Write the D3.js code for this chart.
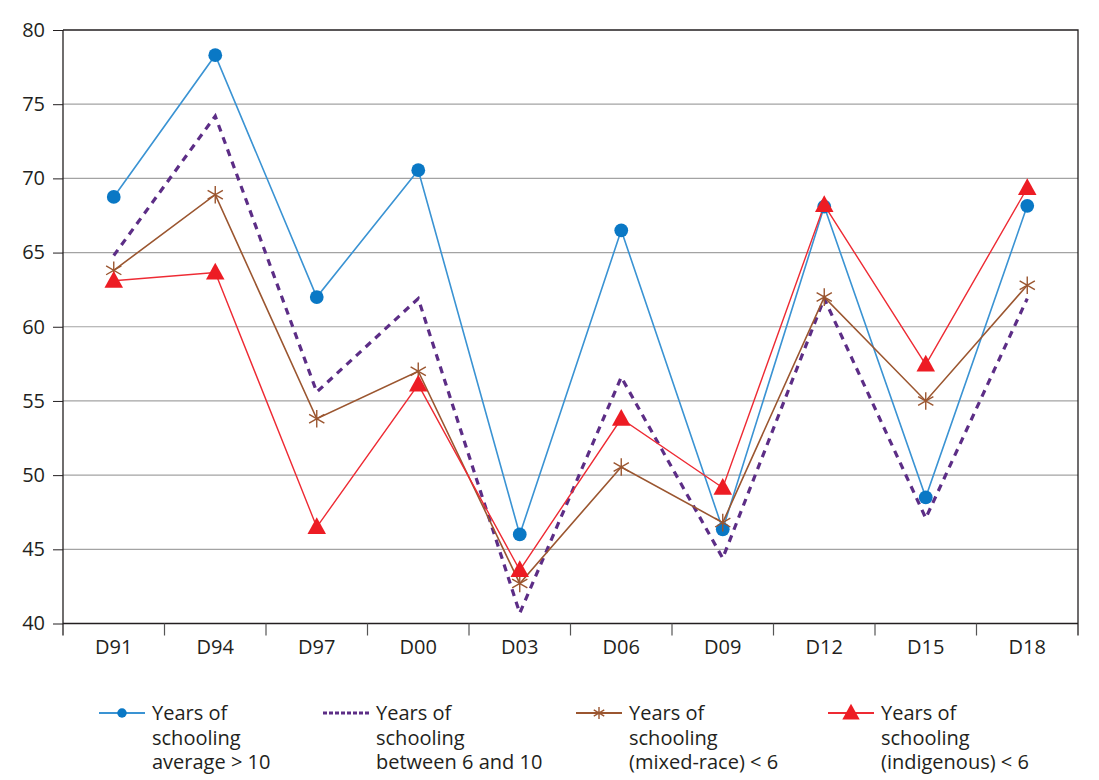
<!DOCTYPE html>
<html>
<head>
<meta charset="utf-8">
<script src="https://cdn.jsdelivr.net/npm/d3@7"></script>
<style>
  body { margin: 0; background: #fff; }
  text { font-family: "Open Sans", "Noto Sans", sans-serif; fill: #231f20; }
</style>
</head>
<body>
<div id="chart"></div>
<script>
// categories and values
var rounds = ["D91", "D94", "D97", "D00", "D03", "D06", "D09", "D12", "D15", "D18"];
var yTicks = [40, 45, 50, 55, 60, 65, 70, 75, 80];

var avgOver10 = [68.75, 78.3, 62.0, 70.55, 46.0, 66.5, 46.35, 68.1, 48.5, 68.15];
var between6and10 = [64.8, 74.2, 55.6, 61.9, 40.7, 56.6, 44.4, 61.9, 47.1, 61.9];
var mixedRace = [63.8, 68.9, 53.8, 57.0, 42.7, 50.55, 46.8, 62.0, 55.0, 62.8];
var indigenous = [63.1, 63.65, 46.5, 56.1, 43.6, 53.8, 49.15, 68.2, 57.45, 69.35];

var legendLabels = [
  ["Years of", "schooling", "average > 10"],
  ["Years of", "schooling", "between 6 and 10"],
  ["Years of", "schooling", "(mixed-race) < 6"],
  ["Years of", "schooling", "(indigenous) < 6"]
];

var w = 1099, h = 780;
var plotLeft = 63, plotRight = 1078, plotTop = 30, plotBottom = 623.5;

var series = [
  { values: avgOver10, line: "#3a93d3", fill: "#0a78c5", width: 1.6, marker: "circle" },
  { values: between6and10, line: "#5c2d86", width: 3.2, dash: "7,6", marker: "none" },
  { values: mixedRace, line: "#9b5630", width: 1.6, marker: "star" },
  { values: indigenous, line: "#ee2a33", fill: "#ed1c24", width: 1.4, marker: "triangle" }
];

var svg = d3.select("#chart").append("svg")
  .attr("width", w)
  .attr("height", h);

var xScale = d3.scaleBand()
  .domain(rounds)
  .range([plotLeft, plotRight]);

var yScale = d3.scaleLinear()
  .domain([40, 80])
  .range([plotBottom, plotTop]);

// gridlines
svg.append("g")
  .selectAll("line")
  .data(yTicks.filter(function(d) { return d > 40 && d < 80; }))
  .enter()
  .append("line")
  .attr("x1", plotLeft)
  .attr("x2", plotRight)
  .attr("y1", function(d) { return yScale(d); })
  .attr("y2", function(d) { return yScale(d); })
  .attr("stroke", "#a3a3a3")
  .attr("stroke-width", 1.2);

// top and right border
svg.append("path")
  .attr("d", "M" + plotLeft + "," + yScale(80) + "H" + plotRight + "V" + (plotBottom + 12))
  .attr("fill", "none")
  .attr("stroke", "#231f20")
  .attr("stroke-width", 1.3);

// Y axis
var yAxis = d3.axisLeft(yScale)
  .tickValues(yTicks)
  .tickSize(10)
  .tickPadding(8);

var gy = svg.append("g")
  .attr("transform", "translate(" + plotLeft + ",0)")
  .call(yAxis);
gy.select(".domain").attr("stroke", "#231f20").attr("stroke-width", 1.3)
  .attr("d", "M0," + (plotBottom + 12) + "V" + yScale(80));
gy.selectAll(".tick line").attr("stroke", "#231f20");
gy.selectAll(".tick text").style("font-size", "20px").attr("fill", "#231f20");

// X axis, ticks on band edges
var gx = svg.append("g")
  .attr("transform", "translate(0," + plotBottom + ")");
gx.append("line")
  .attr("x1", plotLeft).attr("x2", plotRight)
  .attr("stroke", "#231f20").attr("stroke-width", 1.3);
gx.selectAll(".edge")
  .data(rounds.slice(1))
  .enter()
  .append("line")
  .attr("class", "edge")
  .attr("x1", function(d) { return xScale(d); })
  .attr("x2", function(d) { return xScale(d); })
  .attr("y1", 0)
  .attr("y2", 12)
  .attr("stroke", "#555")
  .attr("stroke-width", 1.2);
gx.selectAll(".lab")
  .data(rounds)
  .enter()
  .append("text")
  .attr("class", "lab")
  .attr("x", function(d) { return xScale(d) + xScale.bandwidth() / 2; })
  .attr("y", 30)
  .attr("text-anchor", "middle")
  .style("font-size", "20px")
  .text(function(d) { return d; });

function starPath(r) {
  var p = "";
  for (var k = 0; k < 3; k++) {
    var a = Math.PI / 2 + k * Math.PI / 3;
    var dx = r * Math.cos(a), dy = r * Math.sin(a);
    p += "M" + (-dx) + "," + (-dy) + "L" + dx + "," + dy;
  }
  return p;
}

function drawMarker(g, s, size) {
  if (s.marker == "circle") {
    g.append("circle").attr("r", size * 0.43).attr("fill", s.fill);
  } else if (s.marker == "star") {
    g.append("path").attr("d", starPath(size * 0.55))
      .attr("stroke", s.line).attr("stroke-width", 1.4).attr("fill", "none");
  } else if (s.marker == "triangle") {
    var t = size * 0.58;
    g.append("path")
      .attr("d", "M0," + (-t * 1.05) + "L" + t + "," + (t * 0.75) + "L" + (-t) + "," + (t * 0.75) + "Z")
      .attr("fill", s.fill);
  }
}

var line = d3.line()
  .x(function(d, i) { return xScale(rounds[i]) + xScale.bandwidth() / 2; })
  .y(function(d) { return yScale(d); });

series.forEach(function(s) {
  svg.append("path")
    .datum(s.values)
    .attr("d", line)
    .attr("fill", "none")
    .attr("stroke", s.line)
    .attr("stroke-width", s.width)
    .attr("stroke-dasharray", s.dash || null);
});

series.forEach(function(s) {
  if (s.marker == "none") return;
  svg.append("g")
    .selectAll("g")
    .data(s.values)
    .enter()
    .append("g")
    .attr("transform", function(d, i) {
      return "translate(" + (xScale(rounds[i]) + xScale.bandwidth() / 2) + "," + yScale(d) + ")";
    })
    .each(function() { drawMarker(d3.select(this), s, 16); });
});

// legend
var legendX = [99, 323, 576, 828];
var legendY = 713;
series.forEach(function(s, i) {
  var g = svg.append("g").attr("transform", "translate(" + legendX[i] + "," + legendY + ")");
  g.append("line")
    .attr("x1", 0).attr("x2", 46)
    .attr("stroke", s.line)
    .attr("stroke-width", s.dash ? 3.2 : 2)
    .attr("stroke-dasharray", s.dash ? "4,2" : null);
  var m = g.append("g").attr("transform", "translate(23,0)");
  drawMarker(m, s, s.marker == "triangle" ? 15 : 11);
  var t = g.append("text")
    .attr("x", 53)
    .attr("y", 7)
    .style("font-size", "20px");
  legendLabels[i].forEach(function(l, j) {
    t.append("tspan").attr("x", 53).attr("dy", j == 0 ? 0 : 24.5).text(l);
  });
});
</script>
</body>
</html>
